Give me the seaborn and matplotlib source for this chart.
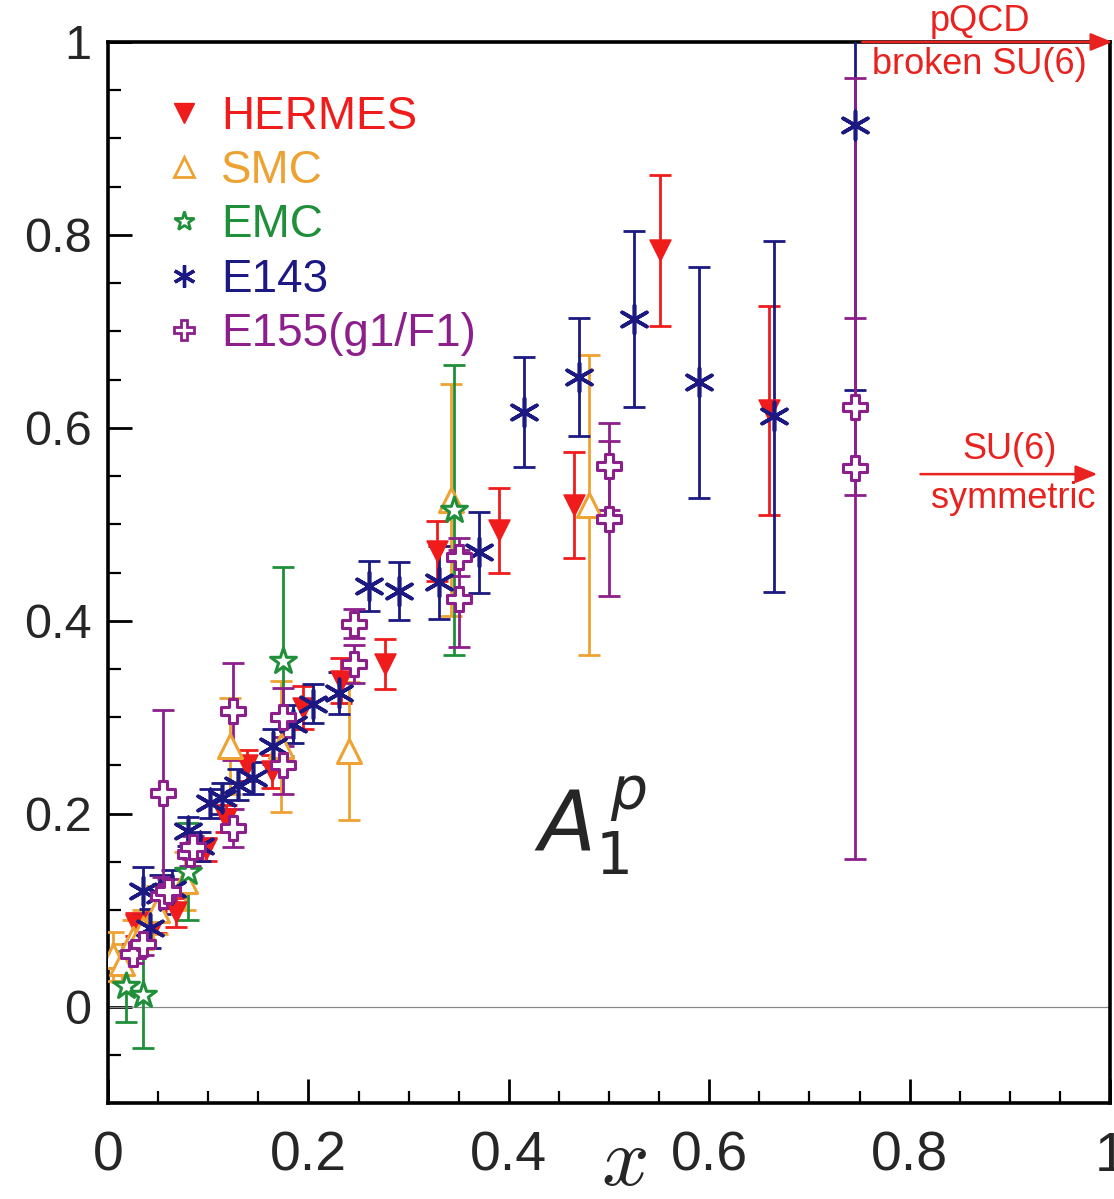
import numpy as np
import pandas as pd
import seaborn as sns
import matplotlib
matplotlib.use("Agg")
import matplotlib.pyplot as plt
from matplotlib.lines import Line2D
from matplotlib.ticker import MultipleLocator

# ---- measurements of the proton spin asymmetry A1^p versus Bjorken x ----
hermes_x = [0.028, 0.048, 0.068, 0.098, 0.118, 0.139, 0.164, 0.195, 0.232, 0.276, 0.328, 0.390, 0.465, 0.551, 0.660]
hermes_y = [0.085, 0.088, 0.098, 0.163, 0.195, 0.250, 0.244, 0.310, 0.338, 0.355, 0.472, 0.494, 0.520, 0.784, 0.618]
hermes_e = [0.012, 0.012, 0.015, 0.012, 0.014, 0.016, 0.017, 0.022, 0.023, 0.026, 0.031, 0.044, 0.055, 0.078, 0.108]

smc_x = [0.005, 0.014, 0.025, 0.035, 0.049, 0.077, 0.122, 0.173, 0.240, 0.342, 0.480]
smc_y = [0.052, 0.045, 0.070, 0.080, 0.100, 0.130, 0.270, 0.270, 0.265, 0.525, 0.520]
smc_e = [0.025, 0.020, 0.020, 0.020, 0.025, 0.030, 0.050, 0.068, 0.072, 0.120, 0.155]

emc_x = [0.018, 0.035, 0.080, 0.175, 0.345]
emc_y = [0.021, 0.012, 0.140, 0.358, 0.515]
emc_e = [0.037, 0.055, 0.050, 0.098, 0.150]

e143_x = [0.035, 0.042, 0.052, 0.064, 0.080, 0.092, 0.102, 0.114, 0.130, 0.145, 0.165, 0.185,
          0.205, 0.230, 0.260, 0.290, 0.330, 0.370, 0.415, 0.470, 0.525, 0.590, 0.665, 0.745]
e143_y = [0.120, 0.081, 0.116, 0.122, 0.182, 0.166, 0.211, 0.216, 0.230, 0.237, 0.270, 0.293,
          0.314, 0.325, 0.436, 0.431, 0.440, 0.471, 0.616, 0.653, 0.713, 0.647, 0.612, 0.914]
e143_e = [0.025, 0.020, 0.020, 0.020, 0.015, 0.015, 0.015, 0.016, 0.016, 0.017, 0.018, 0.020,
          0.020, 0.022, 0.026, 0.030, 0.038, 0.042, 0.057, 0.061, 0.091, 0.120, 0.182, 0.275]

e155_x = [0.025, 0.035, 0.055, 0.060, 0.055, 0.082, 0.085, 0.125, 0.125, 0.175, 0.175,
          0.245, 0.245, 0.350, 0.350, 0.500, 0.500, 0.745, 0.745]
e155_y = [0.055, 0.065, 0.115, 0.120, 0.221, 0.158, 0.165, 0.306, 0.185, 0.300, 0.250,
          0.397, 0.355, 0.466, 0.423, 0.560, 0.506, 0.622, 0.558]
e155_e = [0.010, 0.012, 0.012, 0.012, 0.087, 0.012, 0.012, 0.050, 0.020, 0.030, 0.030,
          0.015, 0.020, 0.020, 0.050, 0.045, 0.080, 0.092, 0.405]

labels = ["HERMES", "SMC", "EMC", "E143", "E155(g1/F1)"]
colors = ["#f01c1c", "#eea233", "#1f8f3a", "#1c1a82", "#8c1f8c"]

x_ticks = [0, 0.2, 0.4, 0.6, 0.8, 1.0]
x_ticklabels = ["0", "0.2", "0.4", "0.6", "0.8", "1"]
y_ticks = [0, 0.2, 0.4, 0.6, 0.8, 1.0]
y_ticklabels = ["0", "0.2", "0.4", "0.6", "0.8", "1"]

# ---- styling ----
sns.set_theme(style="white")
plt.rcParams["font.family"] = ["Liberation Sans", "DejaVu Sans"]

series = [
    dict(x=hermes_x, y=hermes_y, e=hermes_e, marker="v", filled=True, size=230),
    dict(x=smc_x, y=smc_y, e=smc_e, marker="^", filled=False, size=300),
    dict(x=emc_x, y=emc_y, e=emc_e, marker="*", filled=False, size=380),
    dict(x=e143_x, y=e143_y, e=e143_e, marker=(6, 2, 0), filled=None, size=420),
    dict(x=e155_x, y=e155_y, e=e155_e, marker="P", filled=False, size=300),
]

fig = plt.figure(figsize=(11.14, 11.99), dpi=100)
ax = fig.add_axes([0.097, 0.080, 0.8995, 0.885])

ax.axhline(0, color="#888888", lw=0.9, zorder=1)

for i, (s, lab, col) in enumerate(zip(series, labels, colors)):
    df = pd.DataFrame({"x": s["x"], "y": s["y"], "err": s["e"]})
    ax.errorbar(df["x"], df["y"], yerr=df["err"], fmt="none", ecolor=col,
                elinewidth=2.0, capsize=8, capthick=2.0, zorder=2 + i)
    kw = dict(data=df, x="x", y="y", marker=s["marker"], s=s["size"], ax=ax,
              legend=False, zorder=10 + i)
    if s["filled"] is True:
        sns.scatterplot(color=col, edgecolor=col, linewidth=1, **kw)
    elif s["filled"] is False:
        sns.scatterplot(facecolor="white", edgecolor=col, linewidth=2.2, **kw)
    else:
        sns.scatterplot(color=col, linewidth=2.6, **kw)

ax.set_xlim(0, 1)
ax.set_ylim(-0.1, 1.0)
ax.set_xticks(x_ticks)
ax.set_xticklabels(x_ticklabels, family=["Liberation Sans Narrow", "Liberation Sans"], fontsize=40)
ax.set_yticks(y_ticks)
ax.set_yticklabels(y_ticklabels, fontsize=35)
ax.xaxis.set_minor_locator(MultipleLocator(0.05))
ax.yaxis.set_minor_locator(MultipleLocator(0.05))
ax.tick_params(axis="both", which="both", direction="in", color="black",
               left=True, bottom=True, top=False, right=False)
ax.tick_params(axis="both", which="major", length=17, width=2)
ax.tick_params(axis="both", which="minor", length=9, width=1.6)
ax.tick_params(axis="y", which="major", pad=12)
ax.tick_params(axis="x", which="major", pad=20)
for side in ["left", "bottom", "top", "right"]:
    ax.spines[side].set_color("black")
    ax.spines[side].set_linewidth(2.6)
ax.grid(False)
ax.set_xlabel("")
ax.set_ylabel("")

# x axis title in math italic
ax.text(0.515, -0.162, r"$x$", transform=ax.transData, fontsize=60,
        ha="center", va="center", math_fontfamily="cm")

# asymmetry label
ax.text(0.425, 0.16, r"$A_1^{\,p}$", fontsize=60, ha="left", va="baseline",
        math_fontfamily="dejavusans")

# theoretical limits at x -> 1
red = "#e8221e"
ax.annotate("", xy=(1.005, 1.0), xytext=(0.75, 1.0),
            arrowprops=dict(arrowstyle="-|>,head_length=1.1,head_width=0.45",
                            color=red, lw=1.8), annotation_clip=False)
ax.text(0.87, 1.003, "pQCD", color=red, fontsize=26, ha="center", va="bottom", clip_on=False)
ax.text(0.87, 0.995, "broken SU(6)", color=red, fontsize=26, ha="center", va="top", clip_on=False)

ax.annotate("", xy=(0.99, 0.552), xytext=(0.808, 0.552),
            arrowprops=dict(arrowstyle="-|>,head_length=1.1,head_width=0.45",
                            color=red, lw=1.8), annotation_clip=False)
ax.text(0.90, 0.559, "SU(6)", color=red, fontsize=26, ha="center", va="bottom")
ax.text(0.903, 0.545, "symmetric", color=red, fontsize=26, ha="center", va="top")

# legend
handles = []
for s, lab, col in zip(series, labels, colors):
    if s["filled"] is True:
        h = Line2D([], [], ls="none", marker=s["marker"], markersize=14,
                   markerfacecolor=col, markeredgecolor=col)
    elif s["filled"] is False:
        h = Line2D([], [], ls="none", marker=s["marker"], markersize=15,
                   markerfacecolor="white", markeredgecolor=col, markeredgewidth=2)
    else:
        h = Line2D([], [], ls="none", marker=s["marker"], markersize=16,
                   color=col, markeredgewidth=2.4)
    handles.append(h)
leg = ax.legend(handles, labels, loc="upper left", bbox_to_anchor=(0.035, 0.967),
                frameon=False, fontsize=33, labelcolor=colors, handlelength=1.0,
                handletextpad=0.3, labelspacing=0.22, borderaxespad=0)

fig.savefig("out.png", dpi=100)
